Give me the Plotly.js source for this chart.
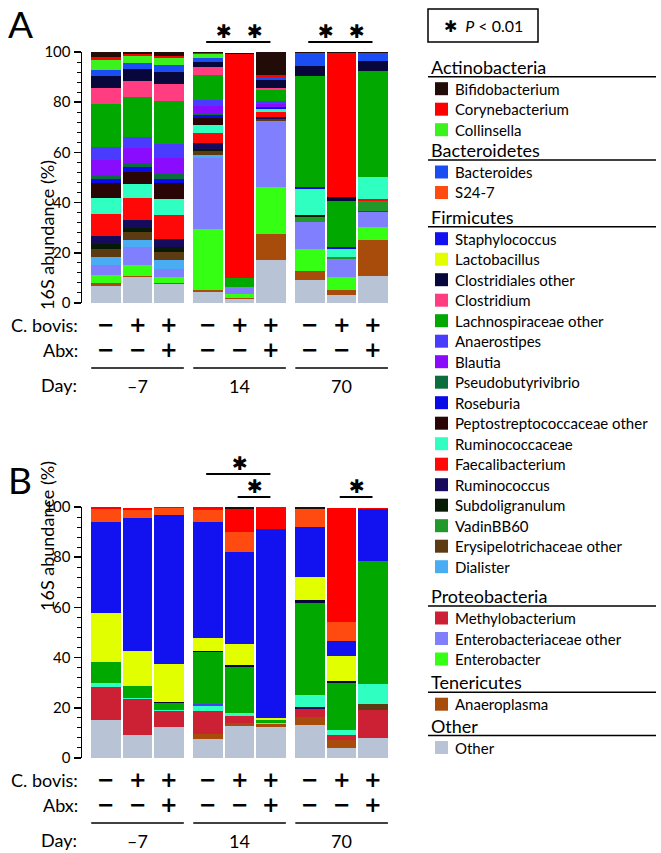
<!DOCTYPE html>
<html>
<head>
<meta charset="utf-8">
<script src="https://cdn.plot.ly/plotly-3.0.1.min.js"></script>
<style>
  body { margin: 0; background: #fff; }
  #chart { width: 661px; height: 853px; }
</style>
</head>
<body>
<div id="chart"></div>
<script>
// taxa, in legend order (top of stack first)
const taxa = ['Bifidobacterium', 'Corynebacterium', 'Collinsella', 'Bacteroides', 'S24-7',
  'Staphylococcus', 'Lactobacillus', 'Clostridiales other', 'Clostridium', 'Lachnospiraceae other',
  'Anaerostipes', 'Blautia', 'Pseudobutyrivibrio', 'Roseburia', 'Peptostreptococcaceae other',
  'Ruminococcaceae', 'Faecalibacterium', 'Ruminococcus', 'Subdoligranulum', 'VadinBB60',
  'Erysipelotrichaceae other', 'Dialister', 'Methylobacterium', 'Enterobacteriaceae other',
  'Enterobacter', 'Anaeroplasma', 'Other']
const colors = ['#210c07', '#ff0000', '#3cf21c', '#1a4ef2', '#ff4a10',
  '#1212f0', '#e2ff00', '#07073c', '#ff3d80', '#00a800',
  '#4a3cff', '#8a0cff', '#0b6e3e', '#0a0ae6', '#2a0506',
  '#30ffc2', '#ff0808', '#150a5c', '#061a06', '#20992a',
  '#5c3a12', '#4aacf2', '#cc2035', '#8080ff', '#35ff12', '#a84c0c', '#b8c4d6']
const phyla = ['Actinobacteria', 'Bacteroidetes', 'Firmicutes', 'Proteobacteria', 'Tenericutes', 'Other']
const phylumSize = [3, 2, 17, 3, 1, 1]

const days = ['\u20137', '14', '70']
const cBovis = ['\u2212', '+', '+']
const abx = ['\u2212', '\u2212', '+']

// panel A (% abundance, 9 bars)
const bifidoA    = [2.2, 1.2, 2.0, 0.9, 0.5, 9.3, 0.7, 0.5, 0.7]
const corynA     = [1.3, 0.8, 0.7, 0.3, 89.3, 0.5, 0, 57.4, 0]
const collinsA   = [3.9, 2.9, 2.9, 1.6, 0, 0, 0, 0, 0]
const bacteroA   = [2.5, 2.4, 2.7, 1.7, 0, 1.3, 5.3, 0, 3.2]
const s247A      = [0, 0, 0, 0, 0, 0, 0, 0, 0]
const staphA     = [0, 0, 0, 0, 0, 0, 0, 0, 0]
const lactoA     = [0, 0, 0, 0, 0, 0, 0, 0, 0]
const clostOthA  = [4.9, 4.9, 4.6, 2.0, 0, 3.4, 3.8, 1.7, 4.0]
const clostA     = [6.2, 6.2, 7.0, 3.3, 0, 0.7, 0, 0, 0]
const lachnoA    = [17.0, 15.9, 17.1, 9.9, 3.7, 4.2, 44.1, 18.4, 42.1]
const anaeroA    = [5.3, 4.4, 5.4, 2.3, 0, 1.3, 0, 0, 0]
const blautiaA   = [6.0, 6.0, 6.2, 3.0, 0, 1.1, 0, 0, 0]
const pseudoA    = [1.6, 1.5, 2.1, 0.7, 0, 0.3, 0, 0, 0]
const roseA      = [1.7, 2.0, 1.9, 0.9, 0, 0.6, 0.9, 0.5, 0.3]
const peptoA     = [5.7, 4.8, 6.4, 2.8, 0, 0, 0, 0, 0]
const rumAceA    = [6.6, 5.7, 6.2, 3.3, 0, 1.3, 10.6, 3.4, 8.7]
const faecaliA   = [8.6, 8.9, 9.5, 4.2, 0, 1.7, 0, 0, 0.9]
const rumA       = [3.2, 3.2, 3.3, 2.3, 0, 0.9, 0, 0, 0]
const subdoA     = [2.0, 1.4, 2.0, 0.8, 0, 0, 0.5, 0, 0]
const vadinA     = [0, 0, 0, 0, 0, 0, 2.3, 0.8, 4.0]
const erysA      = [3.4, 3.1, 3.0, 1.6, 0, 0.9, 0, 0, 0.4]
const dialA      = [3.2, 2.7, 3.6, 1.3, 0, 0, 0, 0, 0]
const methylA    = [0, 0, 0, 0, 0, 0, 0, 0, 0]
const enteroOthA = [4.0, 7.3, 3.2, 28.1, 2.6, 26.2, 10.6, 7.2, 6.0]
const enteroA    = [3.2, 4.4, 2.7, 24.2, 1.7, 18.8, 8.9, 5.3, 4.9]
const anaeroplA  = [1.2, 0.5, 0.4, 0.9, 0.5, 10.3, 3.3, 1.7, 14.6]
const otherA     = [6.6, 10.3, 7.4, 4.4, 1.5, 17.2, 9.3, 3.3, 10.6]

// panel B
const bifidoB    = [0, 0, 0, 0, 0.7, 0, 0.7, 0, 0]
const corynB     = [0.7, 0.8, 0.4, 0.7, 9.3, 8.8, 0, 45.5, 0.7]
const collinsB   = [0, 0, 0, 0, 0, 0, 0, 0, 0]
const bacteroB   = [0, 0, 0, 0.5, 0, 0, 0, 0, 0]
const s247B      = [5.3, 3.3, 2.7, 4.8, 8.1, 0, 7.3, 7.7, 0]
const staphB     = [36.3, 53.1, 59.5, 46.2, 36.4, 75.2, 19.7, 6.0, 20.7]
const lactoB     = [19.3, 13.9, 15.1, 5.0, 8.4, 0.8, 9.3, 10.0, 0]
const clostOthB  = [0, 0, 0.4, 0.5, 0.7, 0, 1.1, 0.9, 0]
const clostB     = [0, 0, 0, 0, 0, 0, 0, 0, 0]
const lachnoB    = [8.6, 4.9, 2.7, 20.7, 18.3, 1.2, 36.8, 18.5, 49.1]
const anaeroB    = [0, 0, 0, 0.7, 0, 0, 0, 0, 0]
const blautiaB   = [0, 0, 0, 0, 0, 0, 0, 0, 0]
const pseudoB    = [0, 0, 0, 0, 0, 0, 0, 0, 0]
const roseB      = [0, 0, 0, 0, 0, 0, 0, 0, 0]
const peptoB     = [0, 0, 0, 0, 0, 0, 0, 0, 0]
const rumAceB    = [1.3, 0.4, 0.4, 1.9, 1.5, 0.5, 4.9, 2.0, 7.8]
const faecaliB   = [0, 0, 0, 0, 0, 0, 0, 0, 0]
const rumB       = [0, 0, 0, 0, 0, 0, 0.7, 0, 0]
const subdoB     = [0, 0, 0, 0, 0, 0, 0, 0, 0]
const vadinB     = [0, 0, 0, 0, 0, 0, 0, 0, 0]
const erysB      = [0, 0, 0, 0, 0, 0, 0, 0, 2.4]
const dialB      = [0, 0, 0, 0, 0, 0, 0, 0, 0]
const methylB    = [13.4, 14.4, 6.5, 9.5, 2.5, 0, 3.2, 2.2, 11.1]
const enteroOthB = [0, 0, 0, 0, 0, 0, 0, 0, 0]
const enteroB    = [0, 0, 0, 0, 0, 0, 0, 0, 0]
const anaeroplB  = [0, 0, 0, 2.0, 1.5, 1.0, 3.3, 3.0, 0]
const otherB     = [15.0, 9.0, 12.2, 7.4, 12.6, 12.5, 13.0, 4.0, 8.0]

const seriesA = [bifidoA, corynA, collinsA, bacteroA, s247A, staphA, lactoA, clostOthA, clostA, lachnoA,
  anaeroA, blautiaA, pseudoA, roseA, peptoA, rumAceA, faecaliA, rumA, subdoA, vadinA,
  erysA, dialA, methylA, enteroOthA, enteroA, anaeroplA, otherA]
const seriesB = [bifidoB, corynB, collinsB, bacteroB, s247B, staphB, lactoB, clostOthB, clostB, lachnoB,
  anaeroB, blautiaB, pseudoB, roseB, peptoB, rumAceB, faecaliB, rumB, subdoB, vadinB,
  erysB, dialB, methylB, enteroOthB, enteroB, anaeroplB, otherB]

// significance brackets: [from bar, to bar, level]
const sigA = [[3, 4, 1], [4, 5, 1], [6, 7, 1], [7, 8, 1]]
const sigB = [[3, 5, 2], [4, 5, 1], [7, 8, 1]]

// ---------- layout helpers (pixel -> paper) ----------
const W = 661, H = 853
const px = x => x / W
const py = y => 1 - y / H
const font = 'Lato, "Open Sans", sans-serif'
const signFont = { family: '"DejaVu Sans"', size: 21, color: '#000' }

const xPos = []
days.forEach((d, g) => cBovis.forEach((c, i) => xPos.push(g * 3.24 + i)))

const data = []
// stack bottom-up: reverse of legend order
for (let k = taxa.length - 1; k >= 0; k--) {
  data.push({
    type: 'bar', x: xPos, y: seriesA[k], name: taxa[k], width: 0.94,
    marker: { color: colors[k], line: { width: 0 } },
    xaxis: 'x', yaxis: 'y', showlegend: false,
  })
  data.push({
    type: 'bar', x: xPos, y: seriesB[k], name: taxa[k], width: 0.94,
    marker: { color: colors[k], line: { width: 0 } },
    xaxis: 'x2', yaxis: 'y2', showlegend: false,
  })
}

const annotations = []
const shapes = []

const yAxisStyle = {
  range: [0, 100], showgrid: false, zeroline: false,
  showline: true, linewidth: 1.5, linecolor: '#000',
  ticks: 'outside', ticklen: 7, tickwidth: 1.5, tickcolor: '#000',
  tickvals: [0, 20, 40, 60, 80, 100],
  tickfont: { family: font, size: 15, color: '#000' },
  minor: { dtick: 4, ticks: 'outside', ticklen: 4, tickwidth: 1, tickcolor: '#000' },
  fixedrange: true,
}
const xDomain = [px(82), px(390)]
const xRange = [-0.762, 9.016]

// panels: bar top pixel, label letter
const panels = [
  { top: 52, letter: 'A', xa: 'x', sig: sigA },
  { top: 507, letter: 'B', xa: 'x2', sig: sigB },
]

panels.forEach(p => {
  const bottom = p.top + 251
  annotations.push({ xref: 'paper', yref: 'paper', x: px(6), y: py(p.top - 28), xanchor: 'left', yanchor: 'middle',
    text: p.letter, showarrow: false, font: { family: font, size: 37, color: '#000' } })
  annotations.push({ xref: 'paper', yref: 'paper', x: px(34), y: py(p.top + 106), textangle: -90,
    text: '16S abundance (%)', showarrow: false, font: { family: font, size: 18, color: '#000' } })

  // condition rows
  const rows = [['C. bovis:', cBovis, bottom + 22], ['Abx:', abx, bottom + 47]]
  rows.forEach(([lab, signs, y]) => {
    annotations.push({ xref: 'paper', yref: 'paper', x: px(80), y: py(y), xanchor: 'right', yanchor: 'middle',
      text: lab, showarrow: false, font: { family: font, size: 18, color: '#000' } })
    xPos.forEach((xv, j) => {
      annotations.push({ xref: p.xa, yref: 'paper', x: xv, y: py(y), xanchor: 'center', yanchor: 'middle',
        text: '<b>' + signs[j % 3] + '</b>', showarrow: false, font: signFont })
    })
  })
  annotations.push({ xref: 'paper', yref: 'paper', x: px(79), y: py(bottom + 82), xanchor: 'right', yanchor: 'middle',
    text: 'Day:', showarrow: false, font: { family: font, size: 18, color: '#000' } })
  days.forEach((d, g) => {
    const first = xPos[g * 3], last = xPos[g * 3 + 2]
    shapes.push({ type: 'line', xref: p.xa, yref: 'paper', x0: first - 0.47, x1: last + 0.47,
      y0: py(bottom + 65), y1: py(bottom + 65), line: { color: '#000', width: 1.5 } })
    annotations.push({ xref: p.xa, yref: 'paper', x: xPos[g * 3 + 1], y: py(bottom + 83), xanchor: 'center', yanchor: 'middle',
      text: d, showarrow: false, font: { family: font, size: 18, color: '#000' } })
  })

  // significance stars
  p.sig.forEach(([a, b, level]) => {
    const ly = p.top - 10 - (level - 1) * 23
    shapes.push({ type: 'line', xref: p.xa, yref: 'paper', x0: xPos[a] - 0.06, x1: xPos[b] - 0.02,
      y0: py(ly), y1: py(ly), line: { color: '#000', width: 2 } })
    annotations.push({ xref: p.xa, yref: 'paper', x: (xPos[a] + xPos[b]) / 2, y: py(ly - 11), xanchor: 'center', yanchor: 'middle',
      text: '\u2731', showarrow: false, font: { family: 'DejaVu Sans', size: 19, color: '#000' } })
  })
})

// ---------- legend (drawn by hand to get phylum headers) ----------
shapes.push({ type: 'rect', xref: 'paper', yref: 'paper', x0: px(428), x1: px(538), y0: py(9), y1: py(42),
  line: { color: '#000', width: 1.5 } })
annotations.push({ xref: 'paper', yref: 'paper', x: px(483), y: py(26), xanchor: 'center', yanchor: 'middle',
  text: '\u2731  <i>P</i> < 0.01', showarrow: false, font: { family: font, size: 16, color: '#000' } })

const headerY = [66.7, 150, 216.7, 596, 682.2, 725.5]
let t = 0
phyla.forEach((ph, g) => {
  const hy = headerY[g]
  annotations.push({ xref: 'paper', yref: 'paper', x: px(429), y: py(hy), xanchor: 'left', yanchor: 'middle',
    text: ph, showarrow: false, font: { family: font, size: 18, color: '#000' } })
  shapes.push({ type: 'line', xref: 'paper', yref: 'paper', x0: px(428), x1: px(656), y0: py(hy + 10), y1: py(hy + 10),
    line: { color: '#000', width: 1.5 } })
  for (let i = 0; i < phylumSize[g]; i++, t++) {
    const iy = hy + 22 + i * 20.5
    shapes.push({ type: 'rect', xref: 'paper', yref: 'paper', x0: px(435), x1: px(448), y0: py(iy - 6.5), y1: py(iy + 6.5),
      fillcolor: colors[t], line: { width: 0 } })
    annotations.push({ xref: 'paper', yref: 'paper', x: px(453), y: py(iy), xanchor: 'left', yanchor: 'middle',
      text: taxa[t], showarrow: false, font: { family: font, size: 15, color: '#000' } })
  }
})

const layout = {
  width: W, height: H,
  margin: { l: 0, r: 0, t: 0, b: 0 },
  paper_bgcolor: '#fff', plot_bgcolor: '#fff',
  barmode: 'stack', bargap: 0,
  showlegend: false,
  font: { family: font, color: '#000' },
  xaxis: { domain: xDomain, range: xRange, visible: false, anchor: 'y', fixedrange: true },
  xaxis2: { domain: xDomain, range: xRange, visible: false, anchor: 'y2', fixedrange: true },
  yaxis: Object.assign({ domain: [py(303), py(52)], anchor: 'x' }, yAxisStyle),
  yaxis2: Object.assign({ domain: [py(758), py(507)], anchor: 'x2' }, yAxisStyle),
  annotations: annotations,
  shapes: shapes,
}

Plotly.newPlot('chart', data, layout, { displayModeBar: false, staticPlot: true })
</script>
</body>
</html>
